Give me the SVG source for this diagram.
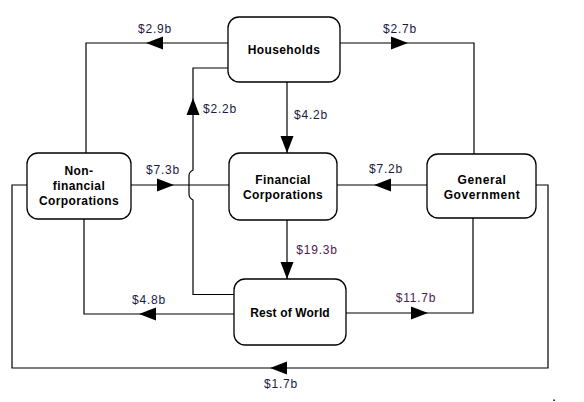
<svg xmlns="http://www.w3.org/2000/svg" xmlns:xlink="http://www.w3.org/1999/xlink" width="584" height="402" viewBox="0 0 584 402">
<style>
.box{fill:#fff;stroke:#000;stroke-width:1.3}
.ln{fill:none;stroke:#000;stroke-width:1.2}
.nt{font-family:"Liberation Sans",Arial,sans-serif;font-size:12px;font-weight:bold;fill:#000;text-anchor:middle;letter-spacing:0.4px}
.lb{font-family:"Liberation Sans",Arial,sans-serif;font-size:12px;fill:#1a1a40;text-anchor:middle;letter-spacing:0.8px}
.lp{fill:#4a2050}
</style>
<defs>
<path id="ah" d="M0,0 L-17,-6.5 L-17,6.5 Z" fill="#000"/>
</defs>
<rect width="584" height="402" fill="#fff"/>
<g id="connectors">
<path class="ln" d="M228,43 H86 V153"/>
<path class="ln" d="M340,43 H474 V154"/>
<path class="ln" d="M234,294.5 H193 V200 Q189,198 189,194 V176 Q189,172 193,170 V68 H228"/>
<path class="ln" d="M287,82 V153"/>
<path class="ln" d="M131,185 H229"/>
<path class="ln" d="M427,185 H337"/>
<path class="ln" d="M287,220 V279"/>
<path class="ln" d="M234,314 H84 V219"/>
<path class="ln" d="M346,313 H473 V218"/>
<path class="ln" d="M536,185 H548 V368 H12 V185 H27"/>
<use xlink:href="#ah" transform="translate(146,43) rotate(180)"/>
<use xlink:href="#ah" transform="translate(408,43)"/>
<use xlink:href="#ah" transform="translate(193,98) rotate(-90)"/>
<use xlink:href="#ah" transform="translate(287,153) rotate(90)"/>
<use xlink:href="#ah" transform="translate(174,185)"/>
<use xlink:href="#ah" transform="translate(374,185) rotate(180)"/>
<use xlink:href="#ah" transform="translate(287,279) rotate(90)"/>
<use xlink:href="#ah" transform="translate(139,314) rotate(180)"/>
<use xlink:href="#ah" transform="translate(428,313)"/>
<use xlink:href="#ah" transform="translate(270,368) rotate(180)"/>
<text class="lb" x="155" y="33">$2.9b</text>
<text class="lb" x="400" y="33">$2.7b</text>
<text class="lb" x="220" y="113">$2.2b</text>
<text class="lb" x="311" y="119">$4.2b</text>
<text class="lb" x="163" y="174">$7.3b</text>
<text class="lb" x="386" y="173">$7.2b</text>
<text class="lb lp" x="317" y="254">$19.3b</text>
<text class="lb" x="149" y="304">$4.8b</text>
<text class="lb lp" x="416" y="302">$11.7b</text>
<text class="lb" x="281" y="388">$1.7b</text>
</g>
<g id="households">
<rect class="box" x="228" y="17" width="112" height="65" rx="11"/>
<text class="nt" x="284" y="54">Households</text>
</g>
<g id="nonfinancial">
<rect class="box" x="27" y="153" width="104" height="66" rx="11"/>
<text class="nt" x="79" y="174.5">Non-</text>
<text class="nt" x="79" y="189.5">financial</text>
<text class="nt" x="79" y="204.5">Corporations</text>
</g>
<g id="financial">
<rect class="box" x="229" y="153" width="108" height="67" rx="11"/>
<text class="nt" x="283" y="183.5">Financial</text>
<text class="nt" x="283" y="198.5">Corporations</text>
</g>
<g id="government">
<rect class="box" x="427" y="154" width="109" height="64" rx="11"/>
<text class="nt" x="482" y="183.5" style="letter-spacing:0.6px">General</text>
<text class="nt" x="482" y="198.5" style="letter-spacing:0.6px">Government</text>
</g>
<g id="restofworld">
<rect class="box" x="234" y="279" width="112" height="66" rx="11"/>
<text class="nt" x="290" y="317" style="letter-spacing:0.15px">Rest of World</text>
</g>
<rect x="553.3" y="399.5" width="1.5" height="1.5" fill="#000"/>
</svg>
